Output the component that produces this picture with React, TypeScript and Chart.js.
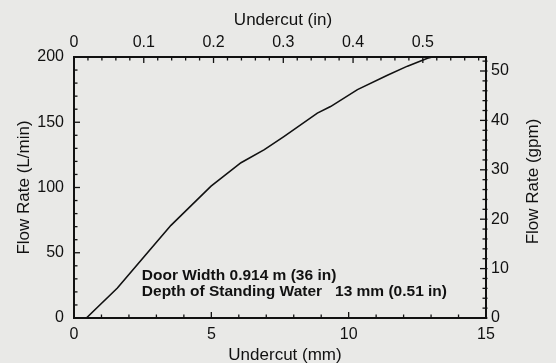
import React, { useEffect, useRef } from "react";
import { Chart, registerables } from "chart.js";

Chart.register(...registerables);

// ---- data ----
const undercutMm = [0.45, 1.58, 2.55, 3.53, 4.99, 6.08, 6.93, 7.64, 8.86, 9.34, 10.32, 11.41, 12.14, 12.87, 13.05];
const flowLpm = [0, 23, 47, 71, 101, 119, 129, 139, 157, 162, 175, 186, 193, 199, 200];

// axis ranges / tick steps
const mmRange = [0, 15];
const mmMajor = 5;
const mmMinor = 1;
const inMajor = 0.1;
const inMinor = 0.02;
const lpmRange = [0, 200];
const lpmMajor = 50;
const lpmMinor = 10;
const gpmMajor = 10;
const gpmMinor = 2;
const MM_PER_IN = 25.4;
const LPM_PER_GPM = 3.78541;

// texts
const titleBottom = "Undercut (mm)";
const titleTop = "Undercut (in)";
const titleLeft = "Flow Rate (L/min)";
const titleRight = "Flow Rate (gpm)";
const noteLines = ["Door Width 0.914 m (36 in)", "Depth of Standing Water   13 mm (0.51 in)"];

const FONT = '"Liberation Sans", Arial, Helvetica, sans-serif';
const INK = "#111";
const BG = "#e9e9e7";

function isMultiple(v: number, step: number) {
  const r = v / step;
  return Math.abs(r - Math.round(r)) < 1e-6;
}

function fmt(v: number) {
  return String(Math.round(v * 1000) / 1000);
}

const decorPlugin = {
  id: "decor",
  beforeDraw(chart: any) {
    const ctx = chart.ctx;
    ctx.save();
    ctx.fillStyle = BG;
    ctx.fillRect(0, 0, chart.width, chart.height);
    ctx.restore();
  },
  afterDraw(chart: any) {
    const ctx = chart.ctx as CanvasRenderingContext2D;
    const ca = chart.chartArea;
    ctx.save();
    ctx.strokeStyle = INK;
    ctx.lineWidth = 1.3;
    const MAJ = 6;
    const MIN = 3.5;
    const drawAxis = (scale: any, minor: number, major: number, side: string) => {
      const n = Math.floor((scale.max + 1e-9) / minor);
      for (let i = 0; i <= n; i++) {
        const v = i * minor;
        const L = isMultiple(v, major) ? MAJ : MIN;
        const p = scale.getPixelForValue(v);
        ctx.beginPath();
        if (side === "bottom") { ctx.moveTo(p, ca.bottom); ctx.lineTo(p, ca.bottom - L); }
        if (side === "top") { ctx.moveTo(p, ca.top); ctx.lineTo(p, ca.top + L); }
        if (side === "left") { ctx.moveTo(ca.left, p); ctx.lineTo(ca.left + L, p); }
        if (side === "right") { ctx.moveTo(ca.right + 1.5, p); ctx.lineTo(ca.right - L, p); }
        ctx.stroke();
      }
    };
    drawAxis(chart.scales.x, mmMinor, mmMajor, "bottom");
    drawAxis(chart.scales.x2, inMinor, inMajor, "top");
    drawAxis(chart.scales.y, lpmMinor, lpmMajor, "left");
    drawAxis(chart.scales.y2, gpmMinor, gpmMajor, "right");

    // titles
    ctx.fillStyle = INK;
    ctx.font = `17px ${FONT}`;
    ctx.textAlign = "center";
    ctx.textBaseline = "alphabetic";
    const cx = (ca.left + ca.right) / 2;
    ctx.fillText(titleTop, cx + 3, 25);
    ctx.fillText(titleBottom, cx + 5, 360);
    const cy = (ca.top + ca.bottom) / 2;
    ctx.save();
    ctx.translate(28.5, cy);
    ctx.rotate(-Math.PI / 2);
    ctx.fillText(titleLeft, 0, 0);
    ctx.restore();
    ctx.save();
    ctx.translate(537.5, cy - 6);
    ctx.rotate(-Math.PI / 2);
    ctx.fillText(titleRight, 0, 0);
    ctx.restore();

    // annotation
    ctx.font = `bold 15.5px ${FONT}`;
    ctx.textAlign = "left";
    const xs = chart.scales.x;
    const ys = chart.scales.y;
    const nx = xs.getPixelForValue(2.47);
    ctx.fillText(noteLines[0], nx, ys.getPixelForValue(29.5));
    ctx.fillText(noteLines[1], nx, ys.getPixelForValue(16.5));
    ctx.restore();
  },
};

export default function App() {
  const ref = useRef<HTMLCanvasElement>(null);
  useEffect(() => {
    if (!ref.current) return;
    const tickFont = { family: FONT, size: 16 };
    const common = {
      grid: { display: false, drawTicks: false },
      border: { display: true, color: INK, width: 2 },
    };
    const chart = new Chart(ref.current, {
      type: "line",
      data: {
        datasets: [
          {
            data: undercutMm.map((x, i) => ({ x, y: flowLpm[i] })),
            borderColor: INK,
            borderWidth: 1.6,
            pointRadius: 0,
            tension: 0,
            fill: false,
          },
        ],
      },
      options: {
        animation: false,
        responsive: false,
        devicePixelRatio: 1,
        layout: { padding: 0 },
        plugins: { legend: { display: false }, tooltip: { enabled: false } },
        scales: {
          x: {
            type: "linear",
            position: "bottom",
            min: mmRange[0],
            max: mmRange[1],
            ...common,
            ticks: {
              stepSize: mmMajor, font: tickFont, color: INK, padding: 7, maxRotation: 0, autoSkip: false,
              callback: (v: any) => (isMultiple(v, mmMajor) ? fmt(v) : ""),
            },
            afterFit: (s: any) => { s.height = 45; },
          },
          x2: {
            type: "linear",
            position: "top",
            min: mmRange[0] / MM_PER_IN,
            max: mmRange[1] / MM_PER_IN,
            ...common,
            ticks: {
              stepSize: inMajor, includeBounds: false, font: tickFont, color: INK, padding: 5, maxRotation: 0, autoSkip: false,
              callback: (v: any) => (isMultiple(v, inMajor) ? fmt(v) : ""),
            },
            afterFit: (s: any) => { s.height = 57; },
          },
          y: {
            type: "linear",
            position: "left",
            min: lpmRange[0],
            max: lpmRange[1],
            ...common,
            ticks: {
              stepSize: lpmMajor, font: tickFont, color: INK, padding: 10, autoSkip: false,
              callback: (v: any) => (isMultiple(v, lpmMajor) ? fmt(v) : ""),
            },
            afterFit: (s: any) => { s.width = 74; },
          },
          y2: {
            type: "linear",
            position: "right",
            min: lpmRange[0] / LPM_PER_GPM,
            max: lpmRange[1] / LPM_PER_GPM,
            ...common,
            ticks: {
              stepSize: gpmMajor, includeBounds: false, font: tickFont, color: INK, padding: 5, autoSkip: false,
              callback: (v: any) => (isMultiple(v, gpmMajor) ? fmt(v) : ""),
            },
            afterFit: (s: any) => { s.width = 70; },
          },
        },
      } as any,
      plugins: [decorPlugin],
    });
    return () => chart.destroy();
  }, []);
  return (
    <div style={{ position: "fixed", left: 0, top: 0, width: 556, height: 363, background: BG }}>
      <canvas ref={ref} width={556} height={363} style={{ display: "block" }} />
    </div>
  );
}
